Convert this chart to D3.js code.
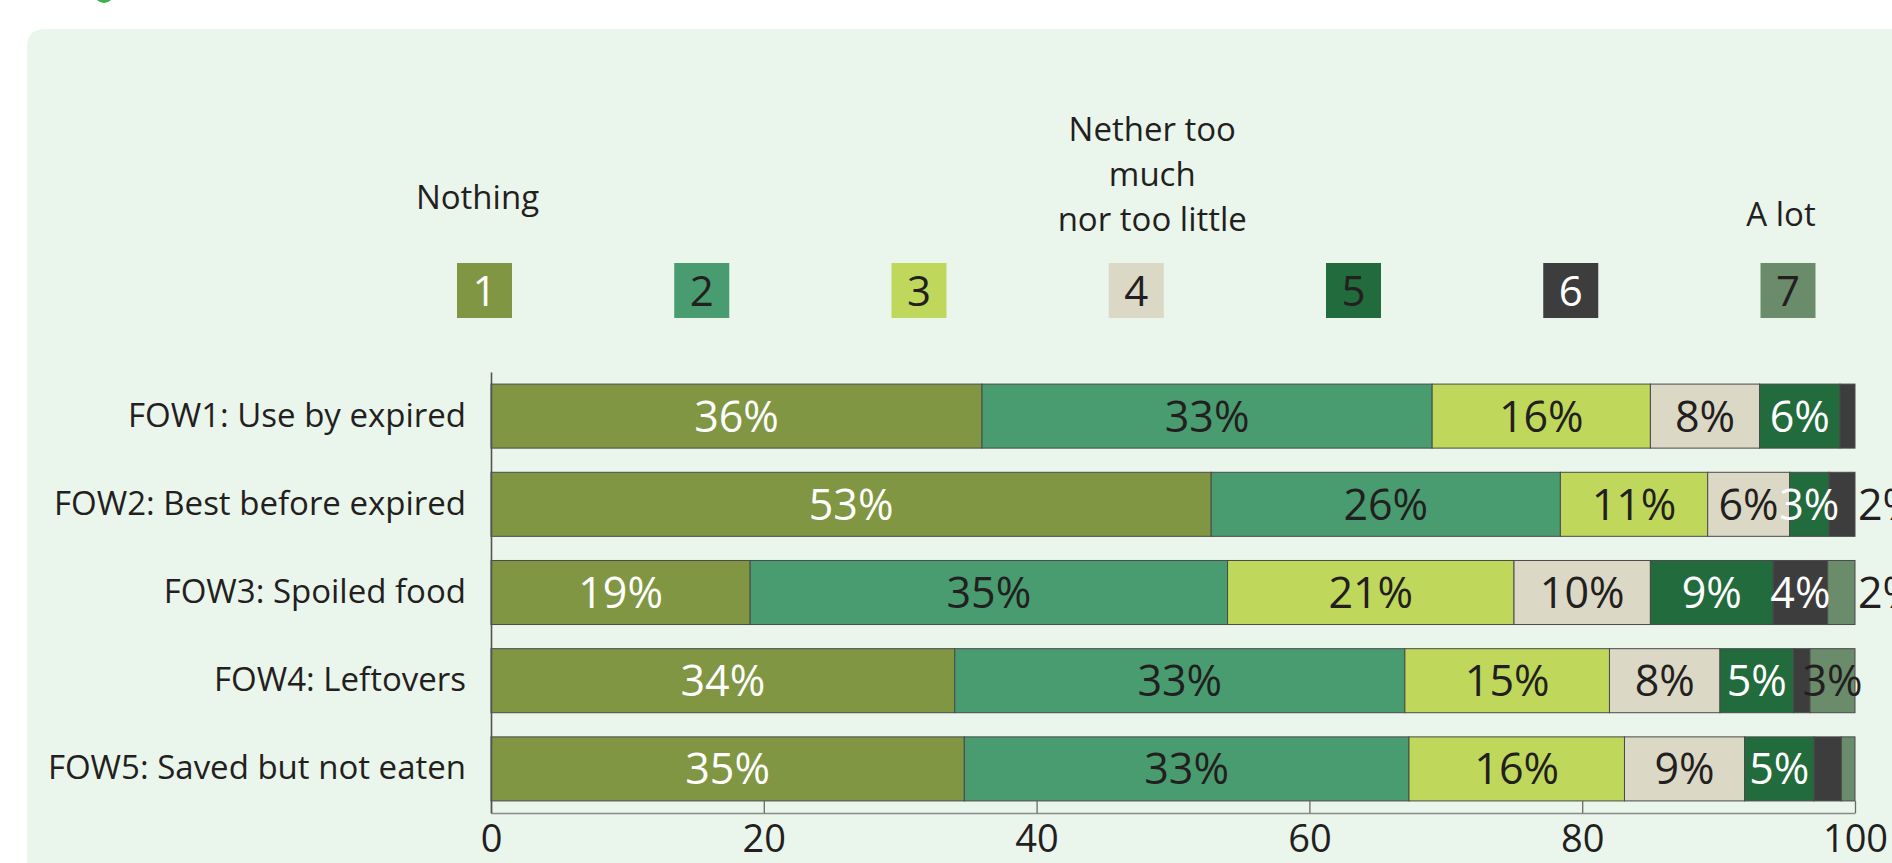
<!DOCTYPE html>
<html>
<head>
<meta charset="utf-8">
<script src="https://cdn.jsdelivr.net/npm/d3@7"></script>
<style>
  html, body { margin: 0; padding: 0; background: #ffffff; overflow: hidden; }
  svg { display: block; font-family: "Open Sans", sans-serif; }
</style>
</head>
<body>
<svg id="chart" width="1892" height="863"></svg>
<script>
// ---------------- DATA ----------------
const categories = [
  "FOW1: Use by expired",
  "FOW2: Best before expired",
  "FOW3: Spoiled food",
  "FOW4: Leftovers",
  "FOW5: Saved but not eaten"
];
const seriesKeys = ["1", "2", "3", "4", "5", "6", "7"];
const legendTitles = [["Nothing"], [], [], ["Nether too", "much", "nor too little"], [], [], ["A lot"]];

// share (%) answering each scale point, one value per category
const s1 = [36.0, 52.8, 19.0, 34.0, 34.7];
const s2 = [33.0, 25.6, 35.0, 33.0, 32.6];
const s3 = [16.0, 10.8, 21.0, 15.0, 15.8];
const s4 = [ 8.0,  6.0, 10.0,  8.1,  8.8];
const s5 = [ 5.9,  2.9,  9.0,  5.4,  5.1];
const s6 = [ 1.1,  1.9,  4.0,  1.2,  2.0];
const s7 = [ 0.0,  0.0,  2.0,  3.3,  1.0];

// segments printed without a value label: [categoryIndex, seriesIndex]
const unlabelled = [[0, 5], [3, 5], [4, 5], [4, 6]];

const xTicks = [0, 20, 40, 60, 80, 100];

// ---------------- STYLE ----------------
const colors = ["#809642", "#489c70", "#bfd85c", "#dbd8c5", "#226b3c", "#3d3d3d", "#6a8c6a"];
const barTextColor = ["#ffffff", "#231f20", "#231f20", "#231f20", "#ffffff", "#ffffff", "#231f20"];
const legendTextColor = ["#ffffff", "#231f20", "#231f20", "#231f20", "#231f20", "#ffffff", "#231f20"];
const dark = "#231f20";

const svg = d3.select("#chart");

// background panel with rounded top-left corner
svg.append("path")
  .attr("d", "M27,47 Q27,29 45,29 L1892,29 L1892,863 L27,863 Z")
  .attr("fill", "#eaf5ec");
// fragment of the heading bullet above the panel
svg.append("circle").attr("cx", 104).attr("cy", -7).attr("r", 10).attr("fill", "#3cb44b");

// ---------------- SCALES ----------------
const x = d3.scaleLinear().domain([0, 100]).range([491, 1855]);
const y = d3.scaleBand().domain(categories).range([372, 813]).paddingInner(0.274).paddingOuter(0.137);

const series = [s1, s2, s3, s4, s5, s6, s7];
const table = categories.map((c, i) => {
  const row = { category: c, index: i };
  seriesKeys.forEach((k, j) => row[k] = series[j][i]);
  return row;
});
const stacked = d3.stack().keys(seriesKeys)(table);

// ---------------- LEGEND ----------------
const lx = d3.scalePoint().domain(seriesKeys).range([484.5, 1788]);
const sq = 55, sqTop = 263;
const legend = svg.append("g");
seriesKeys.forEach((k, j) => {
  const g = legend.append("g").attr("transform", `translate(${lx(k)},0)`);
  g.append("rect").attr("x", -sq / 2).attr("y", sqTop).attr("width", sq).attr("height", sq)
    .attr("fill", colors[j]);
  g.append("text").attr("x", 0).attr("y", sqTop + 43).attr("text-anchor", "middle")
    .attr("font-size", 42).attr("fill", legendTextColor[j]).text(k);
});
const titleLayout = { 0: { dx: -7, base: 209 }, 3: { dx: 16, base: 231 }, 6: { dx: -7, base: 226 } };
legendTitles.forEach((lines, j) => {
  if (!lines.length) return;
  const L = titleLayout[j];
  const t = svg.append("text").attr("text-anchor", "middle").attr("font-size", 33).attr("fill", dark);
  lines.forEach((ln, m) => {
    t.append("tspan").attr("x", lx(seriesKeys[j]) + L.dx)
      .attr("y", L.base - (lines.length - 1 - m) * 45).text(ln);
  });
});

// ---------------- BARS ----------------
const gBars = svg.append("g");
stacked.forEach((layer, j) => {
  gBars.selectAll(null).data(layer.filter(d => d[1] - d[0] > 0)).join("rect")
    .attr("x", d => x(d[0]))
    .attr("y", d => y(d.data.category))
    .attr("width", d => x(d[1]) - x(d[0]))
    .attr("height", y.bandwidth())
    .attr("fill", colors[j])
    .attr("stroke", "#4a4a4a")
    .attr("stroke-width", 1);
});

// ---------------- LABELS ----------------
const isHidden = (i, j) => unlabelled.some(u => u[0] === i && u[1] === j);
const gLabels = svg.append("g").attr("font-size", 43);
stacked.forEach((layer, j) => {
  layer.forEach((d, i) => {
    const v = d[1] - d[0];
    if (v <= 0 || isHidden(i, j)) return;
    const outside = v < 2.5;
    gLabels.append("text")
      .attr("x", outside ? x(100) + 3 : x((d[0] + d[1]) / 2))
      .attr("y", y(d.data.category) + y.bandwidth() / 2)
      .attr("dy", "0.36em")
      .attr("text-anchor", outside ? "start" : "middle")
      .attr("fill", outside ? dark : barTextColor[j])
      .text(Math.round(v) + "%");
  });
});

// ---------------- AXES ----------------
const xAxis = svg.append("g").attr("transform", "translate(0,813)")
  .call(d3.axisBottom(x).tickValues(xTicks).tickSizeInner(-12).tickSizeOuter(0).tickPadding(12));
xAxis.select(".domain").attr("stroke", "#8a8a8a").attr("stroke-width", 1.6);
xAxis.selectAll(".tick line").attr("stroke", "#6a6a6a").attr("stroke-width", 1.3);
xAxis.selectAll(".tick text").attr("font-size", 38).attr("fill", dark).attr("font-family", "Open Sans");

const yAxis = svg.append("g").attr("transform", `translate(${x(0)},0)`)
  .call(d3.axisLeft(y).tickSize(0).tickPadding(25));
yAxis.select(".domain").attr("stroke", "#555").attr("stroke-width", 1.6);
yAxis.selectAll(".tick text").attr("font-size", 33).attr("fill", dark).attr("font-family", "Open Sans");
yAxis.raise();
gLabels.raise();
</script>
</body>
</html>
